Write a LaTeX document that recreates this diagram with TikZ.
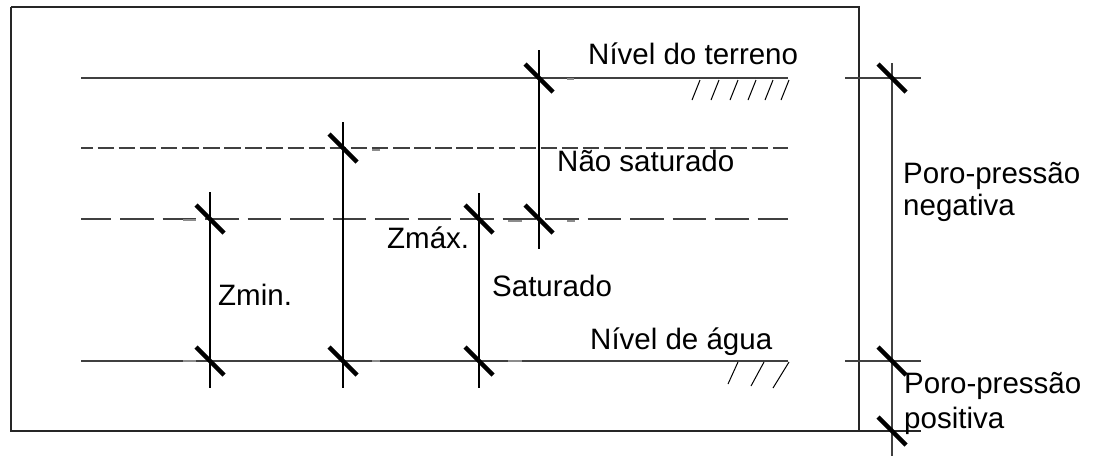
\documentclass[tikz,border=0pt]{standalone}
\usepackage{fontspec}
\setmainfont{Liberation Sans}
\begin{document}
\begin{tikzpicture}[x=1pt,y=-1pt,
  frameline/.style={line width=1.2pt, draw=black!85},
  level/.style={line width=1.2pt, draw=black!75},
  dimline/.style={line width=1.1pt, draw=black},
  tickmark/.style={line width=4.5pt, draw=black},
  hatch/.style={line width=1pt, draw=black},
  stub/.style={line width=1.2pt, draw=black!45},
  lbl/.style={anchor=base west, inner sep=0pt, font=\fontsize{29.5}{32}\selectfont}]
\useasboundingbox (0,0) rectangle (1094,456);

% outer frame
\coordinate (fTL) at (11,7);
\coordinate (fTR) at (859,7);
\coordinate (fBR) at (859,431);
\coordinate (fBL) at (11,431);
\coordinate (fBE) at (921,431);
\draw[frameline] (fTL) -- (fTR) -- (fBR);
\draw[frameline] (fTL) -- (fBL) -- (fBE);

% ground surface
\coordinate (g1) at (81,78);  \coordinate (g2) at (788,78);
\draw[level] (g1) -- (g2);
\foreach \x in {700,719,738,756,773,789}
  \draw[hatch] (\x,80) -- (\x-8,100);

% upper dashed boundary
\coordinate (d1a) at (81,148); \coordinate (d1b) at (788,148);
\draw[level, dash pattern=on 16.5pt off 4.6pt, dash phase=4.5pt] (d1a) -- (d1b);

% lower dashed boundary
\coordinate (d2a) at (81,219); \coordinate (d2b) at (788,219);
\draw[level, dash pattern=on 33.5pt off 9pt, dash phase=3.5pt] (d2a) -- (d2b);

% water table
\coordinate (w1) at (81,361); \coordinate (w2) at (788,361);
\draw[level] (w1) -- (w2);
\draw[hatch] (738,362) -- (728,384);
\draw[hatch] (764,362) -- (751,386);
\draw[hatch] (789,362) -- (773,388);

% vertical dimension lines
\coordinate (v1t) at (210,192); \coordinate (v1b) at (210,388);
\coordinate (v2t) at (343,122); \coordinate (v2b) at (343,388);
\coordinate (v3t) at (479,193); \coordinate (v3b) at (479,388);
\coordinate (v4t) at (539,50);  \coordinate (v4b) at (539,249);
\draw[dimline] (v1t) -- (v1b);
\draw[dimline] (v2t) -- (v2b);
\draw[dimline] (v3t) -- (v3b);
\draw[dimline] (v4t) -- (v4b);

% right-hand pressure scale
\coordinate (rt) at (892,63); \coordinate (rb) at (892,456);
\draw[dimline, draw=black!75] (rt) -- (rb);
\coordinate (r1a) at (845,78);  \coordinate (r1b) at (921,78);
\coordinate (r2a) at (845,361); \coordinate (r2b) at (921,361);
\draw[level] (r1a) -- (r1b);
\draw[level] (r2a) -- (r2b);

% oblique dimension ticks
\foreach \x/\y in {210/219, 210/361, 343/148, 343/361, 479/219, 479/361,
                   539/78, 539/219, 892/78, 892/361, 892/431}
  \draw[tickmark] ([shift={(-14,-14)}]\x,\y) -- ([shift={(14,14)}]\x,\y);

% short leftover stubs next to the ticks
\foreach \a/\b/\y in {183/196/220, 183/196/361, 372/380/150, 372/380/361,
                      508/522/221, 508/522/361, 567/575/221, 567/574/79}
  \draw[stub] (\a,\y) -- (\b,\y);

% labels
\node[lbl] (nt)  at (588,64)  {Nível do terreno};
\node[lbl] (ns)  at (557,171) {Não saturado};
\node[lbl] (zmx) at (387,248) {Zmáx.};
\node[lbl] (zmn) at (218,305) {Zmin.};
\node[lbl] (sat) at (492,296) {Saturado};
\node[lbl] (na)  at (590,349) {Nível de água};
\node[lbl] (pn1) at (903,183) {Poro-pressão};
\node[lbl] (pn2) at (903,215) {negativa};
\node[lbl] (pp1) at (904,393) {Poro-pressão};
\node[lbl] (pp2) at (904,428) {positiva};
\end{tikzpicture}
\end{document}
